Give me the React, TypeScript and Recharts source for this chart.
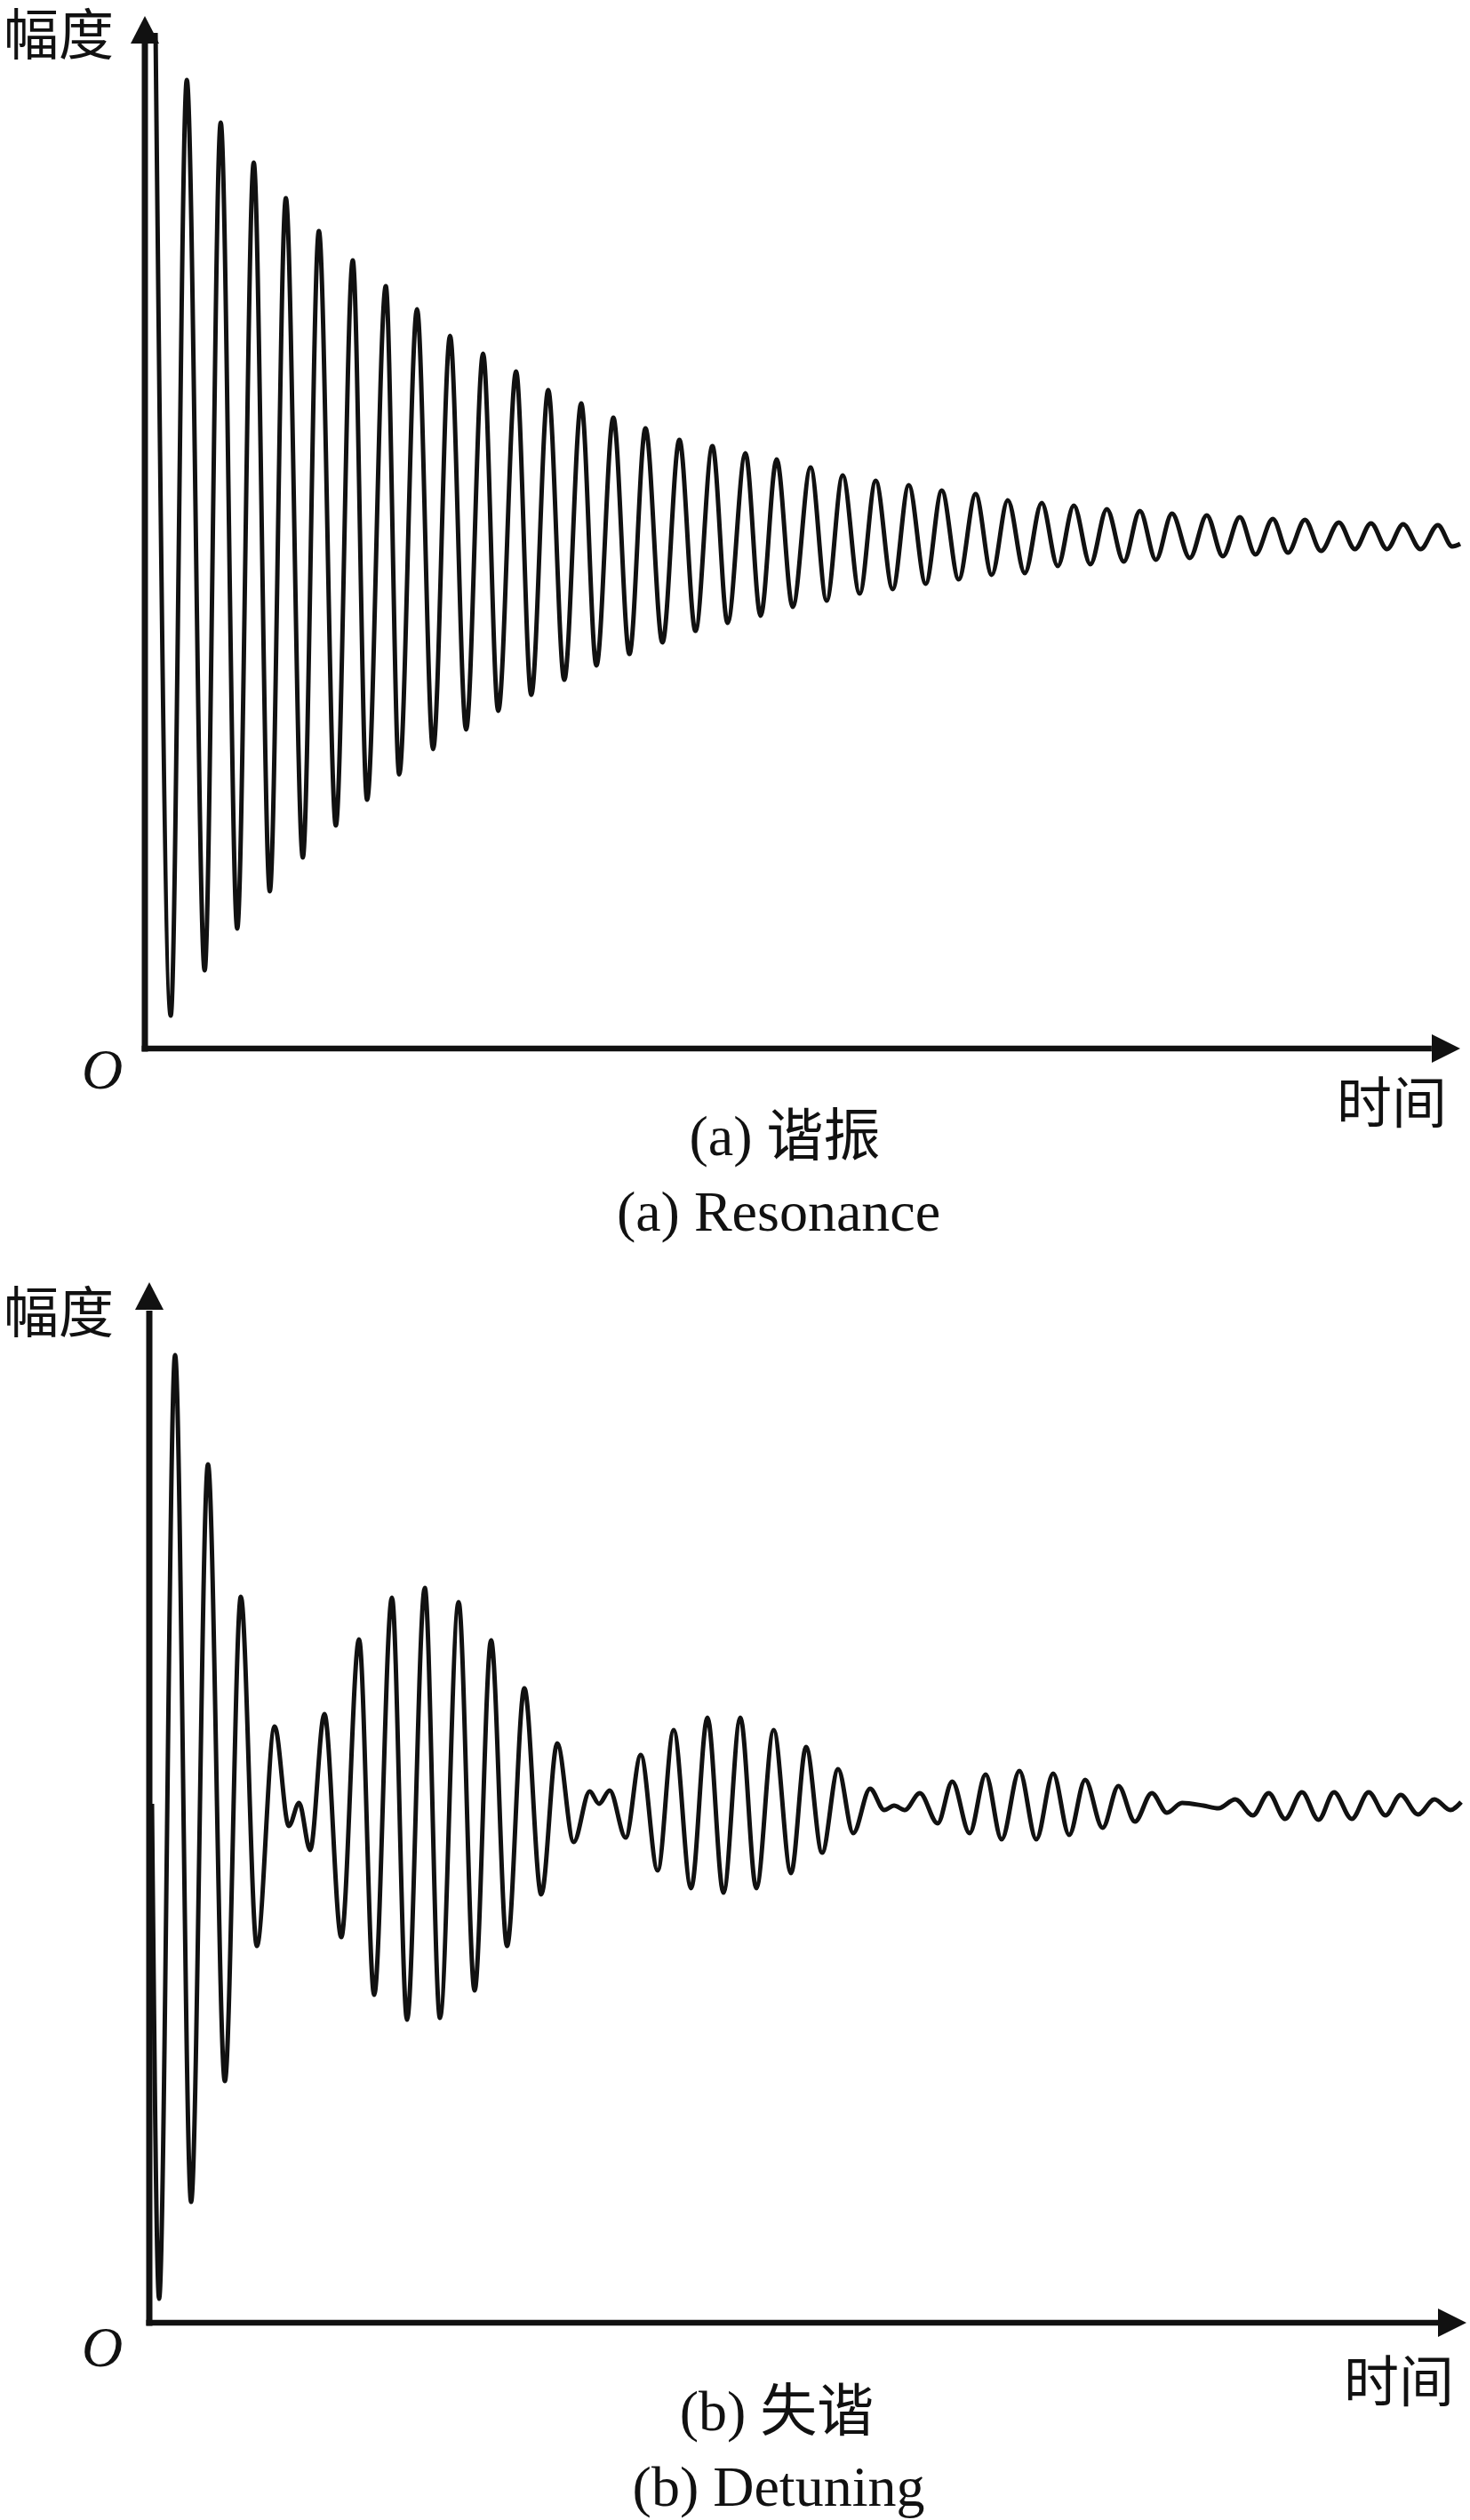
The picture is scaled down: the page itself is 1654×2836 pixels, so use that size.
import { LineChart, Line, XAxis, YAxis, ReferenceLine, ReferenceDot } from 'recharts';

// (a) resonance: alternating peaks / troughs (time, amplitude)
const resonanceTime = [
  1.2, 2.9, 4.7, 6.7, 8.5, 10.35, 12.2, 14.0, 15.8, 17.7,
  19.5, 21.4, 23.3, 24.9, 27.0, 28.5, 30.5, 32.3, 34.2, 36.0,
  37.9, 39.6, 41.6, 43.3, 45.2, 47.0, 48.9, 50.6, 52.5, 54.3,
  56.1, 58.0, 59.9, 61.7, 63.6, 65.3, 67.3, 69.0, 70.8, 72.6,
  74.6, 76.4, 78.2, 80.1, 81.9, 83.8, 85.6, 87.5, 89.3, 91.2,
  93.1, 94.9, 96.7, 98.6, 100.5, 102.3, 104.1, 105.95, 107.8, 109.7,
  111.5, 113.3, 115.1, 117.1, 119.0, 120.8, 122.7, 124.45, 126.4, 128.1,
  130.0, 131.8, 133.8, 135.6, 137.4, 139.2, 141.0, 142.95, 144.9, 146.5,
  147.4,
];
const resonanceAmp = [
  114.3, 3.7, 109.0, 8.8, 104.2, 13.5, 99.7, 17.7, 95.7, 21.5,
  92.0, 25.1, 88.7, 28.0, 85.8, 30.85, 83.2, 33.7, 80.2, 35.9,
  78.2, 38.0, 76.2, 39.8, 74.1, 41.5, 72.6, 43.1, 71.0, 44.4,
  69.8, 45.7, 68.5, 47.0, 67.8, 47.9, 67.0, 48.7, 66.3, 49.7,
  65.4, 50.4, 64.5, 51.2, 63.9, 51.7, 63.4, 52.3, 62.8, 52.8,
  62.4, 53.3, 61.7, 53.5, 61.4, 54.3, 61.1, 54.5, 60.7, 54.8,
  60.5, 55.0, 60.2, 55.2, 60.0, 55.4, 59.8, 55.6, 59.6, 55.8,
  59.5, 56.0, 59.2, 56.2, 59.1, 56.2, 59.0, 56.2, 58.9, 56.5,
  56.8,
];

// (b) detuning: beats between two frequencies
const detuningTime = [
  0.3, 1.1, 2.9, 4.7, 6.6, 8.5, 10.3, 12.1, 14.1, 15.7,
  16.85, 18.1, 19.7, 21.6, 23.6, 25.3, 27.3, 29.0, 31.0, 32.7,
  34.8, 36.6, 38.46, 40.25, 42.2, 44.1, 45.9, 47.75, 49.55, 50.6,
  51.8, 53.6, 55.3, 57.2, 59.0, 60.96, 62.8, 64.6, 66.5, 68.3,
  70.25, 72.2, 73.9, 75.7, 77.5, 79.2, 81.1, 82.7, 83.8, 85.0,
  86.7, 88.7, 90.35, 92.3, 94.1, 95.9, 97.9, 99.8, 101.7, 103.5,
  105.3, 107.26, 109.05, 110.9, 112.8, 114.5, 116.2, 118.6, 120.3, 122.2,
  124.17, 125.95, 127.8, 129.7, 131.56, 133.3, 135.3, 137.2, 139.1, 140.8,
  142.76, 144.6, 146.4, 147.6,
];
const detuningAmp = [
  58.4, 2.7, 108.9, 13.6, 96.6, 27.2, 81.7, 42.4, 67.1, 55.9,
  58.5, 53.2, 68.5, 43.4, 76.9, 36.9, 81.6, 34.1, 82.7, 34.3,
  81.1, 37.4, 76.8, 42.4, 71.4, 48.2, 65.2, 54.1, 59.8, 58.4,
  59.9, 54.6, 63.9, 50.9, 66.7, 48.9, 68.1, 48.4, 68.1, 48.9,
  66.7, 50.6, 64.8, 52.9, 62.3, 55.1, 60.1, 57.7, 58.2, 57.7,
  59.6, 56.2, 60.9, 55.1, 61.7, 54.4, 62.1, 54.4, 61.8, 54.9,
  61.1, 55.7, 60.4, 56.4, 59.6, 57.4, 58.5, 58.2, 57.9, 58.9,
  57.1, 59.6, 56.7, 59.7, 56.6, 59.7, 56.7, 59.7, 57.1, 59.4,
  57.2, 58.9, 57.7, 58.6,
];

const zip = (ts: number[], as: number[]) =>
  ts.slice(0, Math.min(ts.length, as.length)).map((t, i) => ({ t, amp: as[i] }));

const resonanceData = zip(resonanceTime, resonanceAmp);
const detuningData = zip(detuningTime, detuningAmp);

const INK = '#111';
const FONT = "'Liberation Serif', 'Noto Sans CJK SC', serif";

const UpArrow = (props: any) => {
  const { cx, cy } = props;
  return <polygon points={`${cx},${cy} ${cx - 16},${cy + 31} ${cx + 16},${cy + 31}`} fill={INK} />;
};
const RightArrow = (props: any) => {
  const { cx, cy } = props;
  return <polygon points={`${cx},${cy} ${cx - 32},${cy - 16} ${cx - 32},${cy + 16}`} fill={INK} />;
};

type PanelProps = {
  data: { t: number; amp: number }[];
  width: number;
  height: number;
  margin: { top: number; right: number; bottom: number; left: number };
  xMax: number;
  yMax: number;
  xArrowBase: number;
  yArrowBase: number;
};

function Panel({ data, width, height, margin, xMax, yMax, xArrowBase, yArrowBase }: PanelProps) {
  return (
    <LineChart width={width} height={height} data={data} margin={margin}>
      <XAxis type="number" dataKey="t" domain={[0, xMax]} hide />
      <YAxis type="number" domain={[0, yMax]} hide />
      <ReferenceLine
        segment={[{ x: -0.35, y: 0 }, { x: xArrowBase, y: 0 }]}
        stroke={INK}
        strokeWidth={6.5}
        ifOverflow="visible"
      />
      <ReferenceLine
        segment={[{ x: 0, y: -0.35 }, { x: 0, y: yArrowBase }]}
        stroke={INK}
        strokeWidth={7}
        ifOverflow="visible"
      />
      <ReferenceDot x={0} y={yMax} r={1} shape={UpArrow} ifOverflow="visible" />
      <ReferenceDot x={xMax} y={0} r={1} shape={RightArrow} ifOverflow="visible" />
      <Line
        type="monotone"
        dataKey="amp"
        stroke={INK}
        strokeWidth={5}
        dot={false}
        isAnimationActive={false}
      />
    </LineChart>
  );
}

export default function App() {
  return (
    <div style={{ position: 'absolute', left: 0, top: 0, width: 1654, height: 2836, background: '#fff', overflow: 'hidden' }}>
      <div style={{ position: 'absolute', left: 0, top: 0 }}>
        <Panel
          data={resonanceData}
          width={1654}
          height={1200}
          margin={{ top: 18, right: 11, bottom: 20, left: 163 }}
          xMax={147.4}
          yMax={116.2}
          xArrowBase={144.2}
          yArrowBase={113.2}
        />
      </div>
      <div style={{ position: 'absolute', left: 0, top: 1420 }}>
        <Panel
          data={detuningData}
          width={1654}
          height={1220}
          margin={{ top: 23, right: 4, bottom: 26, left: 168 }}
          xMax={148.2}
          yMax={117.1}
          xArrowBase={145}
          yArrowBase={113.9}
        />
      </div>
      <svg
        width={1654}
        height={2836}
        style={{ position: 'absolute', left: 0, top: 0, pointerEvents: 'none' }}
      >
        <g fill={INK} fontFamily={FONT}>
          <text x={4} y={62} fontSize={62}>幅度</text>
          <text x={115} y={1225} fontSize={64} fontStyle="italic" textAnchor="middle">O</text>
          <text x={1504} y={1264} fontSize={62}>时间</text>
          <text x={883} y={1300} fontSize={64} textAnchor="middle">(a) 谐振</text>
          <text x={876} y={1385} fontSize={64} textAnchor="middle">(a) Resonance</text>

          <text x={4} y={1500} fontSize={62}>幅度</text>
          <text x={115} y={2663} fontSize={64} fontStyle="italic" textAnchor="middle">O</text>
          <text x={1512} y={2703} fontSize={62}>时间</text>
          <text x={874} y={2735} fontSize={64} textAnchor="middle">(b) 失谐</text>
          <text x={876} y={2820} fontSize={64} textAnchor="middle">(b) Detuning</text>
        </g>
      </svg>
    </div>
  );
}
